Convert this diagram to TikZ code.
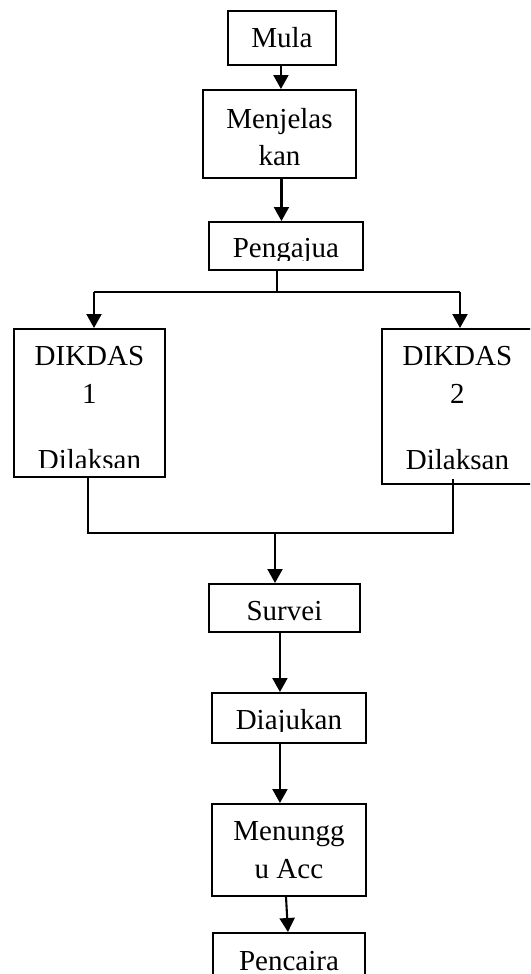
\documentclass[tikz,border=0pt]{standalone}
\usepackage{fontspec}
\setmainfont{Liberation Serif}
\usetikzlibrary{arrows.meta}

% one text line, placed by its baseline below the top edge of the box
\newcommand\tline[2]{\node[anchor=base,inner sep=0pt,font=\fontsize{29}{34}\selectfont]
  at ([yshift=-#1pt]path picture bounding box.north) {#2};}
% text is cut off a little above the bottom edge of the box
\newcommand\tclip[1]{\clip (path picture bounding box.north west) rectangle
  ([yshift=#1pt]path picture bounding box.south east);}

\tikzset{
  flowbox/.style={draw,line width=1.9pt,rectangle,inner sep=0pt,anchor=north west},
  flow/.style={line width=2.1pt},
  flowarrow/.style={flow,-{Triangle[width=15pt,length=14pt]}}
}

\begin{document}
\begin{tikzpicture}[x=1pt,y=-1pt]
\clip (0,0) rectangle (530,974);
\fill[white] (0,0) rectangle (530,974);

\node[flowbox,minimum width=108pt,minimum height=54pt,
  path picture={\tclip{9}\tline{37}{Mula}}] (mula) at (227,10) {};
\node[flowbox,minimum width=153pt,minimum height=88pt,
  path picture={\tclip{9}\tline{39}{Menjelas}\tline{76}{kan}}] (menj) at (202,89) {};
\node[flowbox,minimum width=154pt,minimum height=48pt,
  path picture={\tclip{9}\tline{36}{Pengajua}}] (peng) at (208,221) {};
\node[flowbox,minimum width=151pt,minimum height=148pt,
  path picture={\tclip{9}\tline{37}{DIKDAS}\tline{75}{1}\tline{141}{Dilaksan}}] (dik1) at (13,328) {};
\node[flowbox,minimum width=151pt,minimum height=155pt,
  path picture={\tclip{9}\tline{37}{DIKDAS}\tline{75}{2}\tline{141}{Dilaksan}}] (dik2) at (381,328) {};
\node[flowbox,minimum width=151pt,minimum height=48pt,
  path picture={\tclip{9}\tline{37}{Survei}}] (surv) at (208,583) {};
\node[flowbox,minimum width=154pt,minimum height=50pt,
  path picture={\tclip{11}\tline{37}{Diajukan}}] (diaj) at (211,692) {};
\node[flowbox,minimum width=154pt,minimum height=92pt,
  path picture={\tclip{9}\tline{37}{Menungg}\tline{75}{u Acc}}] (menu) at (211,803) {};
\node[flowbox,minimum width=152pt,minimum height=70pt,
  path picture={\tclip{0}\tline{38}{Pencaira}}] (penc) at (212,932) {};

% branching and joining points
\coordinate (split) at (277,292);
\coordinate (splitL) at (94,292);
\coordinate (splitR) at (460,292);
\coordinate (joinL) at (88,533);
\coordinate (joinR) at (453,533);
\coordinate (join) at (275,533);

\draw[flowarrow] ([xshift=-1pt]mula.south) -- ([xshift=-1pt]mula.south |- menj.north);
\draw[flowarrow] ([xshift=2pt]menj.south) -- ([xshift=2pt]menj.south |- peng.north);
\draw[flow] (peng.south -| split) -- (split);
\draw[flow] (splitL) -- (splitR);
\draw[flowarrow] (splitL) -- (splitL |- dik1.north);
\draw[flowarrow] (splitR) -- (splitR |- dik2.north);
\draw[flow] (joinL |- dik1.south) -- (joinL) -- (joinR) -- ([yshift=6pt]joinR |- dik2.south);
\draw[flowarrow] (join) -- (join |- surv.north);
\draw[flowarrow] ([xshift=-4.5pt]surv.south) -- ([xshift=-4.5pt]surv.south |- diaj.north);
\draw[flowarrow] ([xshift=-9pt]diaj.south) -- ([xshift=-9pt]diaj.south |- menu.north);
\draw[flowarrow] ([xshift=-3pt,yshift=1pt]menu.south) -- ([xshift=-1pt]penc.north);
\end{tikzpicture}
\end{document}
